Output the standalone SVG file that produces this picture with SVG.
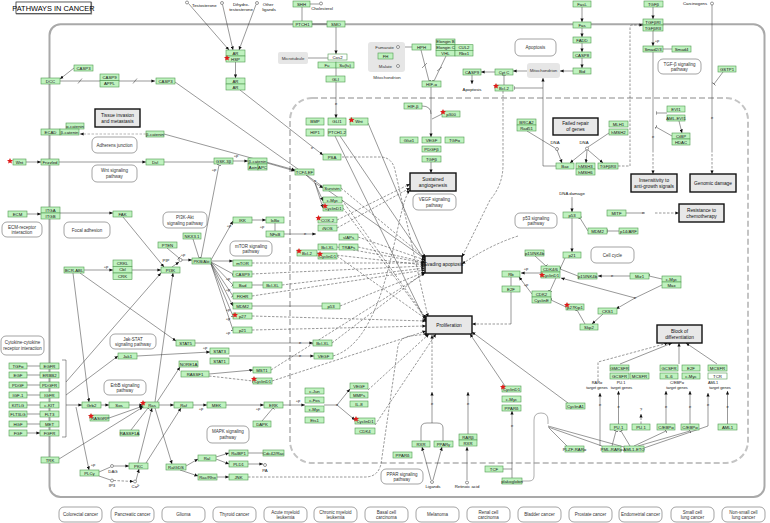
<svg xmlns="http://www.w3.org/2000/svg" width="770" height="523" viewBox="0 0 770 523">
<style>
text{font-family:"Liberation Sans",Arial,sans-serif}
.g rect{fill:#bff2bf;stroke:#4f9a4f;stroke-width:.6}
.g text,.t{font-size:4.3px;text-anchor:middle;fill:#111}
.w{fill:#fff!important}
.p rect{fill:#e8e8e8;stroke:#111;stroke-width:1.4}
.p text{font-size:4.8px;text-anchor:middle;fill:#111}
.m rect{fill:#fff;stroke:#666;stroke-width:.6}
.m text{font-size:4.5px;text-anchor:middle;fill:#333}
.c rect{fill:#e6e6e6}
.c text{font-size:4.4px;text-anchor:middle;fill:#333}
.l{fill:none;stroke:#333;stroke-width:.5}
.d{fill:none;stroke:#333;stroke-width:.5;stroke-dasharray:2.5 1.5}
.a{marker-end:url(#a)}
.i{marker-end:url(#t)}
.o{fill:#fff;stroke:#333;stroke-width:.5}
.s{font-size:4px;fill:#222;text-anchor:middle}
.tg{font-size:3.9px;text-anchor:middle;fill:#111}
</style>
<defs>
<marker id="a" viewBox="0 0 6 6" refX="6" refY="3" markerUnits="userSpaceOnUse" markerWidth="3.6" markerHeight="3.6" orient="auto"><path d="M0,0.3L6,3L0,5.7z" fill="#111"/></marker>
<marker id="t" viewBox="-1 -4 2 8" refX="0" refY="0" markerUnits="userSpaceOnUse" markerWidth="1" markerHeight="4.5" orient="auto"><path d="M0,-4V4" stroke="#111" stroke-width="1.2"/></marker>
<path id="st" d="M0,-3L0.9,-1L3,-0.9L1.4,0.5L1.9,2.6L0,1.5L-1.9,2.6L-1.4,0.5L-3,-0.9L-0.9,-1Z" fill="#e01b1b"/>
</defs>
<rect width="770" height="523" fill="#fff"/>
<g id="title"><rect x="16.5" y="2.5" width="75" height="11.5" fill="#fff" stroke="#999" stroke-width="1.2"/><rect x="16" y="2" width="75" height="11.5" fill="#fff" stroke="#222" stroke-width=".7"/><text x="53.5" y="10.6" font-size="7.4" text-anchor="middle">PATHWAYS IN CANCER</text></g>
<g id="membrane"><rect x="49.5" y="24.3" width="715" height="472.7" rx="11" fill="none" stroke="#a9a9a9" stroke-width="2"/></g>
<g id="nucleus"><rect x="290" y="98" width="458" height="365" rx="22" fill="none" stroke="#c4c4c4" stroke-width="2" stroke-dasharray="6 3"/></g>

<g id="edges">
<path class="l i" d="M302,7V21"/><path class="l i" d="M312,24H327"/><path class="l" d="M310,4H319.5"/>
<path class="l a" d="M336,27V54"/><path class="l i" d="M308,58H328"/><path class="l i" d="M336,68V76"/><path class="l a" d="M336,82V118"/>
<path class="l a" d="M188.5,3.5L229,50"/><path class="l a" d="M222.5,4.5L233,50"/><path class="l a" d="M256,4.5L239,50"/>
<path class="l a" d="M235.5,62V78"/><path class="l a" d="M240,90L323,155"/>
<path class="l a" d="M74,68L60,79"/>
<path d="M60,81H155" fill="none" stroke="#999" stroke-width="1.2" marker-end="url(#a)"/>
<path class="l" d="M78,83.5L82,78.5M133,83.5L137,78.5"/>
<path class="l a" d="M175,82L425,259"/>
<path d="M146,134H80" fill="none" stroke="#888" stroke-width=".6" stroke-dasharray="2.5 1.5" marker-end="url(#a)"/>
<path class="l a" d="M164,134L295,170"/>
<path class="l a" d="M26,162H41"/><path class="l a" d="M59,162H146"/><path class="l i" d="M164,162H214"/>
<path class="l a" d="M233,161H248"/><path class="l a" d="M267,163L295,171"/><path class="l i" d="M201,258L219,165"/>
<path class="l a" d="M27,214H41"/><path class="l a" d="M60,213H113"/><path class="l a" d="M123,217L164,267"/>
<path class="l a" d="M84,270H113"/><path class="l a" d="M132,270H161"/>
<path class="l a" d="M80,273L176,341"/><path class="l a" d="M73,273L89,402"/>
<path class="l i" d="M167,248L179,258"/><path class="l a" d="M172,267L179,262"/><path class="l a" d="M182,260H192"/><path class="l i" d="M193,239L199,258"/>
<path class="l a" d="M211,260L233,221"/><path class="l a" d="M211,261H233"/><path class="l i" d="M211,262L233,274"/><path class="l i" d="M211,262L233,285"/><path class="l i" d="M211,263L233,296"/><path class="l a" d="M211,263L233,306"/><path class="l i" d="M211,264L233,316"/><path class="l i" d="M211,264L233,330"/>
<path class="l a" d="M252,220H266"/><path class="l i" d="M275,223V231"/><path class="l a" d="M284,234H316"/>
<path class="l i" d="M252,285H263"/><path class="l i" d="M252,306H322"/>
<path class="l a" d="M306,175L315,183L323,188"/><path class="l a" d="M315,183L323,201"/><path class="l a" d="M315,183L323,208"/>
<path class="d a" d="M341,188L425,258"/><path class="d a" d="M337,220L410,184"/><path class="d a" d="M337,228L410,188"/>
<path class="d a" d="M358,237L425,260"/><path class="d a" d="M358,247L425,262"/><path class="d a" d="M337,247L425,263"/><path class="d a" d="M317,253L425,265"/>
<path class="d a" d="M337,256L426,319"/><path class="d a" d="M252,263H425"/><path class="d a" d="M252,274L425,266"/><path class="d a" d="M282,285L425,268"/>
<path class="d a" d="M252,296L425,270"/><path class="d a" d="M340,306L425,272"/><path class="d a" d="M252,316L426,321"/><path class="d a" d="M252,330L426,326"/>
<path class="d a" d="M342,200L426,318"/><path class="d a" d="M343,208L426,319"/><path class="d a" d="M332,343L425,272"/>
<path class="d a" d="M333,356C390,340 395,205 410,190"/><path class="d a" d="M271,370L425,273"/><path class="d a" d="M272,381L426,331"/>
<path class="d a" d="M368,390L429,334"/><path class="d a" d="M375,425L436,334"/><path class="d a" d="M342,157H380Q392,157 395,170L428,317"/>
<path class="l a" d="M335,136L426,322"/><path class="l a" d="M340,136L426,262"/><path class="l a" d="M368,123L425,258"/>
<path class="l i" d="M400,47H412"/><path class="l a" d="M398,49V64"/><path class="l i" d="M421,50L429,81"/><path class="l i" d="M446,56L434,81"/>
<path class="l" d="M422,68L427,63M437,71L442,67"/>
<path class="l a" d="M431,87V137"/><path class="l" d="M422,106Q431,106 431,114M442,114L432,119"/><path class="l a" d="M431,162V173"/>
<path class="l a" d="M582,7V22"/><path class="l a" d="M582,28V37"/><path class="l a" d="M582,43V52"/><path class="l a" d="M582,58V68"/>
<path class="l a" d="M573,71H560"/><path class="l a" d="M527,71H513"/><path class="l a" d="M495,72H481"/><path class="l a" d="M472,75V84"/><path class="l i" d="M504,85V75"/>
<path class="l a" d="M556,166H543V78"/><path class="l i" d="M543,88H514"/>
<path class="l" d="M527,131L555,148"/><path class="l" d="M609,133L588,147"/>
<path class="l a" d="M557,150L562,163"/><path class="l a" d="M586,150L570,163"/><path class="l a" d="M587,150L586,163"/><path class="l a" d="M588,150L603,163"/>
<path class="d a" d="M618,166H630V27Q630,25 632,25H643"/>
<path class="l a" d="M653,7V19"/><path class="l a" d="M653,31V46"/><path class="l" d="M662,49H672"/>
<path class="l" d="M653,52V150"/><path class="d a" d="M653,150V174"/><path class="l i" d="M667,113H656"/><path class="l i" d="M672,136L656,127"/><path class="l a" d="M679,121L682,133"/>
<path class="l" d="M712,5V150"/><path class="d a" d="M712,150V174"/><path class="l i" d="M723,72L714,84"/>
<path class="l" d="M626,213H645"/><path class="d a" d="M655,213H679"/>
<path class="l a" d="M572,197V212"/><path class="l a" d="M572,218V252"/><path class="l i" d="M588,231L580,218"/><path class="l i" d="M619,231H607"/>
<path class="l i" d="M565,258L550,291"/><path class="l i" d="M535,256L546,266"/><path class="l a" d="M541,273H521"/><path class="l a" d="M532,294L519,277"/><path class="l i" d="M511,277V286"/>
<path class="l" d="M511,292V324"/><path class="d a" d="M511,324H472"/>
<path class="l i" d="M578,276L560,269"/><path class="l a" d="M630,276H598"/><path class="l i" d="M662,279L649,276"/>
<path class="l a" d="M662,285L635,298L616,309"/><path class="l a" d="M635,298L561,278"/><path class="l a" d="M603,314L592,324"/><path class="l i" d="M585,324L577,310"/><path class="l i" d="M566,307L551,300"/>
<path class="d a" d="M518,236Q490,245 462,264"/><path class="d a" d="M503,91V165Q503,185 490,200L462,257"/>
<path class="l" d="M62,360H66V437H62"/>
<path class="l a" d="M66,382L161,273"/><path class="l a" d="M66,395L118,356"/><path class="l a" d="M66,405H82"/><path class="l a" d="M76,407L89,470"/>
<path class="l a" d="M27,366H40M27,375H40M27,385H40M27,395H40M27,405H40M27,414H40M27,424H40M27,433H40"/>
<path class="l a" d="M101,405H109"/><path class="l a" d="M129,405H143"/>
<path class="l a" d="M155,402L173,273"/><path class="l a" d="M159,405H174"/><path class="l a" d="M155,408L172,464"/><path class="l a" d="M157,402L180,367"/>
<path class="l a" d="M109,418L143,406"/><path class="l i" d="M131,430L148,408"/><path class="l a" d="M59,459L143,407"/>
<path class="l a" d="M146,463L181,408"/><path class="l a" d="M138,463L152,408"/>
<path class="l" d="M99,472L110.5,467M99,476L110.5,480"/><path class="l a" d="M113.5,466H129"/><path class="d a" d="M113.5,480.5L133.5,481.5"/><path class="l a" d="M136,480.5L139,469"/>
<path class="l a" d="M193,405H207"/><path class="l a" d="M226,405H264"/><path class="l a" d="M283,405H305"/><path class="l i" d="M262,421L273,408"/>
<path class="l" d="M324,405H337"/><path class="l a" d="M337,405L350,389"/><path class="l a" d="M337,405L355,420"/>
<path class="l a" d="M186,466L198,459"/><path class="l a" d="M180,470L198,476"/><path class="l a" d="M216,457L229,453"/><path class="l a" d="M216,459L229,464"/>
<path class="l i" d="M248,453H263"/><path class="l a" d="M248,464H263"/><path class="l a" d="M217,477H229"/>
<path class="d a" d="M248,477H365Q378,477 381,464L398,346Q400,338 410,336L428,334"/>
<path class="l a" d="M137,356L210,352"/><path class="l a" d="M229,356H314"/><path class="l a" d="M195,343H313"/>
<path class="l a" d="M209,374L253,370"/><path class="d i" d="M209,376L253,381"/>
<path class="l a" d="M431,480L422,447"/><path class="l a" d="M433,480L442,447"/><path class="l a" d="M467,480V447"/>
<path class="l" d="M421,441V428Q421,423 427,423H437Q443,423 443,428V441"/><path class="l a" d="M432,423V392"/><path class="d a" d="M432,388V335"/>
<path class="l a" d="M468,434V392"/><path class="l" d="M503,469H512"/><path class="l a" d="M512,478V411"/>
<path d="M522,481H529Q534,481 534,476V420Q534,413 541,413Q548,413 548,420V424" fill="none" stroke="#999" stroke-width=".8"/>
<path class="l" d="M548,426L624,447M548,427L602,446M549,428L567,446"/>
<path class="l a" d="M600,446V393"/><path class="l i" d="M612,446L616,431"/><path class="l i" d="M630,446L621,431"/><path class="l i" d="M634,446L666,431"/><path class="l i" d="M638,446L690,431"/>
<path class="l a" d="M644,448L708,426V393"/>
<path class="l a" d="M618.5,424V391"/><path class="d a" d="M641,424V414"/><path class="l a" d="M666,424V391"/><path class="l a" d="M690,424V391"/><path class="l a" d="M727.5,424V391"/>
<path class="d a" d="M598,381V362L668,343"/><path class="l a" d="M620,364L672,343"/><path class="l a" d="M679,364V343"/><path class="l a" d="M717,364L686,343"/>
<path class="l a" d="M505,386L470,334"/><path class="l a" d="M568,403L472,332"/>
</g>

<g id="labels-small">
<text class="s" x="312" y="149">e</text><text class="s" x="336" y="105">e</text><text class="s" x="236" y="157">+p</text><text class="s" x="214" y="171">+p</text>
<text class="s" x="106" y="268">+p</text><text class="s" x="229" y="227">+p</text><text class="s" x="228" y="280">+p</text><text class="s" x="228" y="291">+p</text><text class="s" x="228" y="311">+p</text><text class="s" x="228" y="320">+p</text><text class="s" x="228" y="334">+p</text>
<text class="s" x="262" y="228">+p</text><text class="s" x="305" y="235">e</text><text class="s" x="315" y="182">e</text>
<text class="s" x="657" y="42">+p</text><text class="s" x="653" y="138">e</text><text class="s" x="712" y="119">e</text><text class="s" x="643" y="214">e</text>
<text class="s" x="526" y="270">+p</text><text class="s" x="526" y="286">+p</text><text class="s" x="612" y="277">e</text><text class="s" x="635" y="299">e</text>
<text class="s" x="93" y="466">+p</text><text class="s" x="201" y="410">+p</text><text class="s" x="258" y="410">+p</text><text class="s" x="298" y="402">+p</text><text class="s" x="337" y="406">e</text>
<text class="s" x="205" y="349">+p</text><text class="s" x="300" y="357">e</text><text class="s" x="300" y="344">e</text><text class="s" x="183" y="256">+p</text>
<text class="s" x="432" y="405">e</text><text class="s" x="468" y="405">e</text><text class="s" x="512" y="427">e</text><text class="s" x="600" y="406">e</text><text class="s" x="618.5" y="408">e</text><text class="s" x="666" y="408">e</text><text class="s" x="690" y="408">e</text><text class="s" x="708" y="406">e</text><text class="s" x="727.5" y="408">e</text>
</g>

<g id="compounds">
<circle class="o" cx="187" cy="2.5" r="1.5"/><text class="t" x="192" y="7" style="text-anchor:start">Testosterone</text>
<circle class="o" cx="222" cy="3" r="1.5"/><text class="t" x="241" y="6">Dihydro-</text><text class="t" x="241" y="11">testosterone</text>
<circle class="o" cx="257" cy="3" r="1.5"/><text class="t" x="268" y="6">Other</text><text class="t" x="269" y="11">ligands</text>
<circle class="o" cx="321" cy="3.5" r="1.5"/><text class="t" x="322" y="10">Cholesterol</text>
<text class="t" x="472" y="91">Apoptosis</text>
<text class="t" x="555" y="144">DNA</text><circle class="o" cx="557" cy="149" r="1.5"/>
<text class="t" x="584" y="144">DNA</text><circle class="o" cx="587" cy="148.5" r="1.5"/>
<text class="t" x="572" y="195">DNA damage</text>
<text class="t" x="695" y="4.5">Carcinogens</text><circle class="o" cx="712" cy="3.5" r="1.5"/>
<text class="t" x="166" y="262">PIP</text><circle class="o" cx="180.5" cy="260" r="1.6"/>
<circle class="o" cx="112" cy="466" r="1.5"/><text class="t" x="113" y="472.5">DAG</text>
<circle class="o" cx="112" cy="480.5" r="1.5"/><text class="t" x="112" y="487">IP3</text>
<circle class="o" cx="135" cy="481.5" r="1.5"/><text class="t" x="135.5" y="488">Ca²⁺</text>
<circle class="o" cx="265" cy="465" r="1.5"/><text class="t" x="265" y="471.5">PA</text>
<circle class="o" cx="432" cy="482" r="1.5"/><text class="t" x="433" y="488">Ligands</text>
<circle class="o" cx="467" cy="482.5" r="1.5"/><text class="t" x="467" y="488">Retinoic acid</text>
<text class="t" x="641" y="411">?</text>
<text class="tg" x="597" y="384">RARα</text><text class="tg" x="597" y="389">target genes</text>
<text class="tg" x="621" y="384">PU.1</text><text class="tg" x="621.5" y="389">target genes</text>
<text class="tg" x="677" y="384">C/EBPα</text><text class="tg" x="677" y="389">target genes</text>
<text class="tg" x="713" y="384">AML1</text><text class="tg" x="720" y="389">target genes</text>
</g>

<g id="microtubule" class="c"><rect x="278" y="52" width="30" height="12" rx="2"/><text x="293" y="59.5">Microtubule</text></g>
<g id="mitochondrion" class="c"><rect x="527" y="63" width="33" height="15" rx="3"/><text x="543.5" y="72">Mitochondrion</text></g>
<g id="tca" class="c"><rect x="368" y="42" width="37" height="30" rx="3"/><text x="394" y="48.5" style="text-anchor:end">Fumarate</text><text x="392" y="68" style="text-anchor:end">Malate</text><circle class="o" cx="398" cy="47" r="1.5"/><circle class="o" cx="398" cy="66" r="1.5"/><text x="387" y="78.5">Mitochondrion</text></g>

<g id="h_tissue" class="p"><rect x="95" y="109" width="45" height="18"/><text x="117.5" y="116.5">Tissue invasion</text><text x="117.5" y="122.5">and metastasis</text></g>
<g id="h_angio" class="p"><rect x="410" y="173" width="46" height="18"/><text x="433" y="180.5">Sustained</text><text x="433" y="186.5">angiogenesis</text></g>
<g id="h_evading" class="p"><rect x="425" y="256" width="37" height="17"/><text x="443.5" y="266">Evading apoptosis</text></g>
<g id="h_prolif" class="p"><rect x="426" y="316" width="46" height="18"/><text x="449" y="326.5">Proliferation</text></g>
<g id="h_failed" class="p"><rect x="553" y="118" width="45" height="17"/><text x="575.5" y="125.3">Failed repair</text><text x="575.5" y="131">of genes</text></g>
<g id="h_insens" class="p"><rect x="631" y="174" width="46" height="18"/><text x="654" y="181.5">Insensitivity to</text><text x="654" y="187.5">anti-growth signals</text></g>
<g id="h_genomic" class="p"><rect x="690" y="174" width="46" height="18"/><text x="713" y="184.5">Genomic damage</text></g>
<g id="h_resist" class="p"><rect x="679" y="204" width="45" height="18"/><text x="701.5" y="211.5">Resistance to</text><text x="701.5" y="217.5">chemotherapy</text></g>
<g id="h_block" class="p"><rect x="657" y="325" width="45" height="18"/><text x="679.5" y="332.5">Block of</text><text x="679.5" y="338.5">differentiation</text></g>

<g id="m_adherens" class="m"><rect x="92" y="137" width="45" height="16" rx="5"/><text x="114.5" y="146.5">Adherens junction</text></g>
<g id="m_wnt" class="m"><rect x="92" y="165" width="45" height="17" rx="5"/><text x="114.5" y="172">Wnt signaling</text><text x="114.5" y="177.5">pathway</text></g>
<g id="m_ecm" class="m"><rect x="2" y="222" width="40" height="15" rx="5"/><text x="22" y="228.5">ECM-receptor</text><text x="22" y="234">interaction</text></g>
<g id="m_focal" class="m"><rect x="64" y="222" width="46" height="16" rx="5"/><text x="87" y="231.5">Focal adhesion</text></g>
<g id="m_pi3k" class="m"><rect x="163" y="212" width="44" height="16" rx="5"/><text x="185" y="219">PI3K-Akt</text><text x="185" y="224.5">signaling pathway</text></g>
<g id="m_mtor" class="m"><rect x="230" y="241" width="42" height="15" rx="5"/><text x="251" y="247.5">mTOR signaling</text><text x="251" y="253">pathway</text></g>
<g id="m_jak" class="m"><rect x="110" y="334" width="46" height="15" rx="5"/><text x="133" y="340.5">Jak-STAT</text><text x="133" y="346">signaling pathway</text></g>
<g id="m_cytokine" class="m"><rect x="1" y="336" width="43" height="19" rx="5"/><text x="22.5" y="344">Cytokine-cytokine</text><text x="22.5" y="350">receptor interaction</text></g>
<g id="m_erbb" class="m"><rect x="104" y="380" width="42" height="15" rx="5"/><text x="125" y="386.5">ErbB signaling</text><text x="125" y="392">pathway</text></g>
<g id="m_mapk" class="m"><rect x="207" y="426" width="42" height="17" rx="5"/><text x="228" y="433">MAPK signaling</text><text x="228" y="438.5">pathway</text></g>
<g id="m_vegf" class="m"><rect x="413" y="194" width="43" height="16" rx="5"/><text x="434.5" y="201">VEGF signaling</text><text x="434.5" y="206.5">pathway</text></g>
<g id="m_p53" class="m"><rect x="515" y="213" width="42" height="15" rx="5"/><text x="536" y="219.5">p53 signaling</text><text x="536" y="225">pathway</text></g>
<g id="m_apoptosis" class="m"><rect x="515" y="39" width="41" height="17" rx="5"/><text x="535.5" y="49">Apoptosis</text></g>
<g id="m_tgfb" class="m"><rect x="658" y="59" width="43" height="15" rx="5"/><text x="679.5" y="65.5">TGF-β signaling</text><text x="679.5" y="71">pathway</text></g>
<g id="m_cellcycle" class="m"><rect x="591" y="247" width="43" height="16" rx="5"/><text x="612.5" y="256.5">Cell cycle</text></g>
<g id="m_ppar" class="m"><rect x="381" y="469" width="42" height="15" rx="5"/><text x="402" y="475.5">PPAR signaling</text><text x="402" y="481">pathway</text></g>

<g id="cancers" class="m">
<rect x="59" y="507" width="43" height="15" rx="5"/><text x="80.5" y="516">Colorectal cancer</text>
<rect x="111" y="507" width="43" height="15" rx="5"/><text x="132.5" y="516">Pancreatic cancer</text>
<rect x="162" y="507" width="43" height="15" rx="5"/><text x="183.5" y="516">Glioma</text>
<rect x="213" y="507" width="43" height="15" rx="5"/><text x="234.5" y="516">Thyroid cancer</text>
<rect x="264" y="507" width="43" height="15" rx="5"/><text x="285.5" y="513.5">Acute myeloid</text><text x="285.5" y="519">leukemia</text>
<rect x="314" y="507" width="43" height="15" rx="5"/><text x="335.5" y="513.5">Chronic myeloid</text><text x="335.5" y="519">leukemia</text>
<rect x="365" y="507" width="43" height="15" rx="5"/><text x="386.5" y="513.5">Basal cell</text><text x="386.5" y="519">carcinoma</text>
<rect x="416" y="507" width="43" height="15" rx="5"/><text x="437.5" y="516">Melanoma</text>
<rect x="467" y="507" width="43" height="15" rx="5"/><text x="488.5" y="513.5">Renal cell</text><text x="488.5" y="519">carcinoma</text>
<rect x="518" y="507" width="43" height="15" rx="5"/><text x="539.5" y="516">Bladder cancer</text>
<rect x="569" y="507" width="43" height="15" rx="5"/><text x="590.5" y="516">Prostate cancer</text>
<rect x="619" y="507" width="43" height="15" rx="5"/><text x="640.5" y="516">Endometrial cancer</text>
<rect x="671" y="507" width="43" height="15" rx="5"/><text x="692.5" y="513.5">Small cell</text><text x="692.5" y="519">lung cancer</text>
<rect x="722" y="507" width="43" height="15" rx="5"/><text x="743.5" y="513.5">Non-small cell</text><text x="743.5" y="519">lung cancer</text>
</g>

<g id="n_ar_hsp" class="g"><rect x="226" y="50" width="19" height="6"/><rect x="226" y="56" width="19" height="6"/><text x="235.5" y="54.5">AR</text><text x="235.5" y="60.5">HSP</text><use href="#st" x="227" y="58"/></g>
<g id="n_ar_ar" class="g"><rect x="226" y="78" width="19" height="6"/><rect x="226" y="84" width="19" height="6"/><text x="235.5" y="82.5">AR</text><text x="235.5" y="88.5">AR</text></g>
<g id="n_shh" class="g"><rect x="293" y="1" width="17" height="6"/><text x="301.5" y="5.5">SHH</text></g>
<g id="n_ptch1" class="g"><rect x="293" y="21" width="19" height="6"/><text x="302.5" y="25.5">PTCH1</text></g>
<g id="n_smo" class="g"><rect x="327" y="21" width="18" height="6"/><text x="336" y="25.5">SMO</text></g>
<g id="n_cos2" class="g"><rect class="w" x="328" y="54" width="19" height="6"/><text x="337.5" y="58.5">Cos2</text></g>
<g id="n_fu" class="g"><rect x="318" y="62" width="18" height="6"/><rect x="336" y="62" width="18" height="6"/><text x="327" y="66.5">Fu</text><text x="345" y="66.5">Su(fu)</text></g>
<g id="n_gli" class="g"><rect x="326" y="76" width="19" height="6"/><text x="335.5" y="80.5">GLI</text></g>
<g id="n_bmp" class="g"><rect x="306" y="118" width="18" height="7"/><text x="315" y="123">BMP</text></g>
<g id="n_gli1" class="g"><rect x="328" y="118" width="18" height="7"/><text x="337" y="123">GLI1</text></g>
<g id="n_wnt2" class="g"><rect x="350" y="118" width="18" height="7"/><text x="359" y="123">Wnt</text><use href="#st" x="351.5" y="120"/></g>
<g id="n_hip1" class="g"><rect x="306" y="129" width="18" height="7"/><text x="315" y="134">HIP1</text></g>
<g id="n_ptch12" class="g"><rect x="328" y="129" width="18" height="7"/><text x="337" y="134">PTCH1,2</text></g>
<g id="n_psa" class="g"><rect x="323" y="154" width="18" height="6"/><text x="332" y="158.5">PSA</text></g>
<g id="n_gsk" class="g"><rect x="214" y="158" width="19" height="6"/><text x="223.5" y="162.5">GSK-3β</text></g>
<g id="n_bcat_axin" class="g"><rect x="248" y="158" width="19" height="6"/><rect x="248" y="164" width="10" height="6"/><rect x="258" y="164" width="9" height="6"/><text x="257.5" y="162.5">β-catenin</text><text x="253" y="168.5">Axin</text><text x="262.5" y="168.5">APC</text></g>
<g id="n_tcflef" class="g"><rect x="295" y="169" width="19" height="6"/><text x="304.5" y="173.5">TCF/LEF</text></g>
<g id="n_casp3a" class="g"><rect x="74" y="65" width="19" height="6"/><text x="83.5" y="69.5">CASP3</text></g>
<g id="n_dcc" class="g"><rect x="41" y="78" width="19" height="6"/><text x="50.5" y="82.5">DCC</text></g>
<g id="n_casp9appl" class="g"><rect x="100" y="74" width="19" height="6.5"/><rect x="100" y="80.5" width="19" height="6.5"/><text x="109.5" y="78.8">CASP9</text><text x="109.5" y="85.3">APPL</text></g>
<g id="n_casp3b" class="g"><rect x="156" y="78" width="19" height="6"/><text x="165.5" y="82.5">CASP3</text></g>
<g id="n_ecad" class="g"><rect x="66" y="123" width="18" height="6"/><rect x="41" y="129" width="19" height="6"/><rect x="60" y="129" width="19" height="6"/><text x="75" y="127.5">α-catenin</text><text x="50.5" y="133.5">ECAD</text><text x="69.5" y="133.5">β-catenin</text></g>
<g id="n_bcat2" class="g"><rect x="146" y="131" width="18" height="6"/><text x="155" y="135.5">β-catenin</text></g>
<g id="n_wnt1" class="g"><rect x="13" y="159" width="13" height="6"/><text x="19.5" y="163.5">Wnt</text><use href="#st" x="10" y="161"/></g>
<g id="n_frizzled" class="g"><rect x="41" y="159" width="18" height="6"/><text x="50" y="163.5">Frizzled</text></g>
<g id="n_dvl" class="g"><rect x="146" y="159" width="18" height="6"/><text x="155" y="163.5">Dvl</text></g>
<g id="n_ecm" class="g"><rect x="8" y="211" width="19" height="6"/><text x="17.5" y="215.5">ECM</text></g>
<g id="n_itg" class="g"><rect x="41" y="207" width="19" height="6"/><rect x="41" y="213" width="19" height="6"/><text x="50.5" y="211.5">ITGA</text><text x="50.5" y="217.5">ITGB</text></g>
<g id="n_fak" class="g"><rect x="113" y="211" width="19" height="6"/><text x="122.5" y="215.5">FAK</text></g>
<g id="n_pten" class="g"><rect x="158" y="242" width="19" height="6"/><text x="167.5" y="246.5">PTEN</text></g>
<g id="n_nkx" class="g"><rect x="183" y="233" width="18" height="6"/><text x="192" y="237.5">NKX3.1</text></g>
<g id="n_akt" class="g"><rect x="192" y="258" width="19" height="6"/><text x="201.5" y="262.5">PKB/Akt</text></g>
<g id="n_pi3k" class="g"><rect x="161" y="267" width="19" height="6"/><text x="170.5" y="271.5">PI3K</text></g>
<g id="n_bcrabl" class="g"><rect x="64" y="267" width="20" height="6"/><text x="74" y="271.5">BCR-ABL</text></g>
<g id="n_crkl" class="g"><rect x="113" y="260" width="19" height="6.5"/><rect x="113" y="266.5" width="19" height="6.5"/><rect x="113" y="273" width="19" height="6.5"/><text x="122.5" y="264.8">CRKL</text><text x="122.5" y="271.3">Cbl</text><text x="122.5" y="277.8">CRK</text></g>
<g id="n_ikk" class="g"><rect x="233" y="217" width="19" height="6"/><text x="242.5" y="221.5">IKK</text></g>
<g id="n_ikba" class="g"><rect x="266" y="217" width="18" height="6"/><text x="275" y="221.5">IκBα</text></g>
<g id="n_nfkb" class="g"><rect x="266" y="231" width="18" height="6"/><text x="275" y="235.5">NFκB</text></g>
<g id="n_mtor" class="g"><rect x="233" y="260" width="19" height="6"/><text x="242.5" y="264.5">mTOR</text></g>
<g id="n_casp9b" class="g"><rect x="233" y="271" width="19" height="6"/><text x="242.5" y="275.5">CASP9</text></g>
<g id="n_bad" class="g"><rect x="233" y="282" width="19" height="6"/><text x="242.5" y="286.5">Bad</text></g>
<g id="n_bclxl1" class="g"><rect x="263" y="282" width="19" height="6"/><text x="272.5" y="286.5">Bcl-XL</text></g>
<g id="n_fkhr" class="g"><rect x="233" y="293" width="19" height="6"/><text x="242.5" y="297.5">FKHR</text></g>
<g id="n_mdm2a" class="g"><rect x="233" y="303" width="19" height="6"/><text x="242.5" y="307.5">MDM2</text></g>
<g id="n_p53a" class="g"><rect x="322" y="303" width="18" height="6"/><text x="331" y="307.5">p53</text></g>
<g id="n_p27a" class="g"><rect x="233" y="313" width="19" height="6"/><text x="242.5" y="317.5">p27</text><use href="#st" x="235" y="315"/></g>
<g id="n_p21a" class="g"><rect x="233" y="327" width="19" height="6"/><text x="242.5" y="331.5">p21</text></g>
<g id="n_survivin" class="g"><rect x="323" y="185" width="18" height="6"/><text x="332" y="189.5">Survivin</text></g>
<g id="n_myc1" class="g"><rect x="323" y="197" width="19" height="6"/><rect x="323" y="205" width="20" height="6"/><text x="332.5" y="201.5">c-Myc</text><text x="333" y="209.5">CyclinD1</text><use href="#st" x="325" y="206"/></g>
<g id="n_cox2" class="g"><rect x="318" y="217" width="19" height="6"/><text x="327.5" y="221.5">COX-2</text><use href="#st" x="318.5" y="218"/></g>
<g id="n_inos" class="g"><rect x="318" y="225" width="19" height="6"/><text x="327.5" y="229.5">iNOS</text></g>
<g id="n_siaps" class="g"><rect x="339" y="234" width="19" height="6"/><text x="348.5" y="238.5">sIAPs</text></g>
<g id="n_trafs" class="g"><rect x="339" y="244" width="19" height="6"/><text x="348.5" y="248.5">TRAFs</text></g>
<g id="n_bclxl2" class="g"><rect x="318" y="244" width="19" height="6"/><text x="327.5" y="248.5">Bcl-XL</text></g>
<g id="n_bcl2a" class="g"><rect x="297" y="250" width="20" height="6"/><text x="307" y="254.5">Bcl-2</text><use href="#st" x="299" y="251"/></g>
<g id="n_ccnd1b" class="g"><rect x="318" y="253" width="19" height="6"/><text x="327.5" y="257.5">CyclinD1</text><use href="#st" x="320" y="254"/></g>
<g id="n_stat5" class="g"><rect x="176" y="340" width="19" height="6"/><text x="185.5" y="344.5">STAT5</text></g>
<g id="n_bclxl3" class="g"><rect x="313" y="340" width="19" height="6"/><text x="322.5" y="344.5">Bcl-XL</text></g>
<g id="n_jak1" class="g"><rect x="118" y="353" width="19" height="6"/><text x="127.5" y="357.5">Jak1</text></g>
<g id="n_stat3" class="g"><rect x="210" y="348" width="19" height="6"/><rect x="210" y="358" width="19" height="6"/><text x="219.5" y="352.5">STAT3</text><text x="219.5" y="362.5">STAT1</text></g>
<g id="n_vegf1" class="g"><rect x="314" y="353" width="19" height="6"/><text x="323.5" y="357.5">VEGF</text></g>
<g id="n_ligands" class="g">
<rect x="9" y="363" width="18" height="6"/><text x="18" y="367.5">TGFα</text>
<rect x="9" y="372" width="18" height="6"/><text x="18" y="376.5">EGF</text>
<rect x="9" y="382" width="18" height="6"/><text x="18" y="386.5">PDGF</text>
<rect x="9" y="392" width="18" height="6"/><text x="18" y="396.5">IGF-1</text>
<rect x="9" y="402" width="18" height="6"/><text x="18" y="406.5">KITLG</text>
<rect x="9" y="411" width="18" height="6"/><text x="18" y="415.5">FLT3LG</text>
<rect x="9" y="421" width="18" height="6"/><text x="18" y="425.5">HGF</text>
<rect x="9" y="430" width="18" height="6"/><text x="18" y="434.5">FGF</text></g>
<g id="n_receptors" class="g">
<rect x="40" y="363" width="19" height="6"/><text x="49.5" y="367.5">EGFR</text>
<rect x="40" y="372" width="19" height="6"/><text x="49.5" y="376.5">ERBB2</text>
<rect x="40" y="382" width="19" height="6"/><text x="49.5" y="386.5">PDGFR</text>
<rect x="40" y="392" width="19" height="6"/><text x="49.5" y="396.5">IGFR</text>
<rect x="40" y="402" width="19" height="6"/><text x="49.5" y="406.5">c-KIT</text>
<rect x="40" y="411" width="19" height="6"/><text x="49.5" y="415.5">FLT3</text>
<rect x="40" y="421" width="19" height="6"/><text x="49.5" y="425.5">MET</text>
<rect x="40" y="430" width="19" height="6"/><text x="49.5" y="434.5">FGFR</text></g>
<g id="n_grb2" class="g"><rect x="82" y="402" width="19" height="6"/><text x="91.5" y="406.5">Grb2</text></g>
<g id="n_sos" class="g"><rect x="109" y="402" width="20" height="6"/><text x="119" y="406.5">Sos</text></g>
<g id="n_ras" class="g"><rect x="143" y="402" width="16" height="6"/><text x="152" y="406.5">Ras</text><use href="#st" x="143" y="403"/></g>
<g id="n_red1" class="g"><rect x="90" y="415" width="19" height="6"/><text x="100" y="419.5">RASGRP</text><use href="#st" x="91" y="416"/></g>
<g id="n_rassf1a" class="g"><rect x="120" y="430" width="19" height="6"/><text x="129.5" y="434.5">RASSF1A</text></g>
<g id="n_trk" class="g"><rect x="41" y="457" width="18" height="6"/><text x="50" y="461.5">TRK</text></g>
<g id="n_plcg" class="g"><rect x="80" y="470" width="19" height="6"/><text x="89.5" y="474.5">PLCγ</text></g>
<g id="n_pkc" class="g"><rect x="129" y="463" width="19" height="6"/><text x="138.5" y="467.5">PKC</text></g>
<g id="n_ralgds" class="g"><rect x="166" y="464" width="20" height="6"/><text x="176" y="468.5">RalGDS</text></g>
<g id="n_raf" class="g"><rect x="174" y="402" width="19" height="6"/><text x="183.5" y="406.5">Raf</text></g>
<g id="n_nore1a" class="g"><rect x="179" y="361" width="19" height="6"/><text x="188.5" y="365.5">NORE1A</text></g>
<g id="n_rassf1" class="g"><rect x="181" y="371" width="28" height="6"/><text x="195" y="375.5">RASSF1</text></g>
<g id="n_mst1" class="g"><rect x="253" y="367" width="18" height="6"/><text x="262" y="371.5">MST1</text></g>
<g id="n_ccnd1c" class="g"><rect x="253" y="378" width="19" height="6"/><text x="262.5" y="382.5">CyclinD1</text><use href="#st" x="254" y="379"/></g>
<g id="n_mek" class="g"><rect x="207" y="402" width="19" height="6"/><text x="216.5" y="406.5">MEK</text></g>
<g id="n_erk" class="g"><rect x="264" y="402" width="19" height="6"/><text x="273.5" y="406.5">ERK</text></g>
<g id="n_dapk" class="g"><rect x="253" y="421" width="18" height="6"/><text x="262" y="425.5">DAPK</text></g>
<g id="n_jun" class="g"><rect x="305" y="388" width="19" height="6"/><rect x="305" y="397" width="19" height="6"/><rect x="305" y="406" width="19" height="6"/><rect x="305" y="417" width="19" height="6"/><text x="314.5" y="392.5">c-Jun</text><text x="314.5" y="401.5">c-Fos</text><text x="314.5" y="410.5">c-Myc</text><text x="314.5" y="421.5">Ets1</text></g>
<g id="n_vegf2" class="g"><rect x="350" y="383" width="18" height="6"/><rect x="350" y="392" width="18" height="6"/><rect x="350" y="401" width="18" height="6"/><text x="359" y="387.5">VEGF</text><text x="359" y="396.5">MMPs</text><text x="359" y="405.5">IL-8</text></g>
<g id="n_ccnd1d" class="g"><rect x="355" y="418" width="20" height="6"/><rect x="355" y="428" width="20" height="6"/><text x="365" y="422.5">CyclinD1</text><text x="365" y="432.5">CDK4</text><use href="#st" x="356" y="419"/></g>
<g id="n_ral" class="g"><rect x="198" y="455" width="18" height="6"/><text x="207" y="459.5">Ral</text></g>
<g id="n_ralbp1" class="g"><rect x="229" y="450" width="19" height="6"/><text x="238.5" y="454.5">RalBP1</text></g>
<g id="n_cdc42" class="g"><rect x="263" y="450" width="21" height="6"/><text x="273.5" y="454.5">Cdc42/Rac</text></g>
<g id="n_pld1" class="g"><rect x="229" y="461" width="19" height="6"/><text x="238.5" y="465.5">PLD1</text></g>
<g id="n_racrho" class="g"><rect x="198" y="474" width="19" height="6"/><text x="207.5" y="478.5">Rac/Rho</text></g>
<g id="n_jnk" class="g"><rect x="229" y="474" width="19" height="6"/><text x="238.5" y="478.5">JNK</text></g>
<g id="n_fh" class="g"><rect x="378" y="53" width="15" height="6"/><text x="385.5" y="57.5">FH</text></g>
<g id="n_hph" class="g"><rect x="412" y="44" width="19" height="6"/><text x="421.5" y="48.5">HPH</text></g>
<g id="n_vhl" class="g"><rect x="436" y="39" width="19" height="5.7"/><rect x="436" y="44.7" width="19" height="5.7"/><rect x="455" y="44.7" width="18" height="5.7"/><rect x="436" y="50.3" width="19" height="5.7"/><rect x="455" y="50.3" width="18" height="5.7"/><text x="445.5" y="43.2">Elongin B</text><text x="445.5" y="48.9">Elongin C</text><text x="464" y="48.9">CUL2</text><text x="445.5" y="54.5">VHL</text><text x="464" y="54.5">Rbx1</text></g>
<g id="n_hifa" class="g"><rect x="422" y="81" width="19" height="6"/><text x="431.5" y="85.5">HIF-α</text></g>
<g id="n_hifb" class="g"><rect x="404" y="103" width="18" height="6"/><text x="413" y="107.5">HIF-β</text></g>
<g id="n_p300" class="g"><rect x="442" y="111" width="18" height="6"/><text x="451" y="115.5">p300</text><use href="#st" x="443" y="112"/></g>
<g id="n_hiftargets" class="g"><rect x="400" y="137" width="18" height="6"/><rect x="422" y="137" width="19" height="6"/><rect x="445" y="137" width="19" height="6"/><rect x="422" y="146" width="19" height="6"/><rect x="422" y="156" width="19" height="6"/><text x="409" y="141.5">Glut1</text><text x="431.5" y="141.5">VEGF</text><text x="454.5" y="141.5">TGFα</text><text x="431.5" y="150.5">PDGFβ</text><text x="431.5" y="160.5">TGFβ</text></g>
<g id="n_casp9c" class="g"><rect x="463" y="69" width="18" height="6"/><text x="472" y="73.5">CASP9</text></g>
<g id="n_cytc" class="g"><rect x="495" y="69" width="18" height="6"/><text x="504" y="73.5">Cyt C</text></g>
<g id="n_bcl2b" class="g"><rect x="495" y="85" width="18" height="6"/><text x="504" y="89.5">Bcl-2</text><use href="#st" x="496" y="86"/></g>
<g id="n_brca2" class="g"><rect x="517" y="119" width="19" height="6"/><rect x="517" y="125" width="19" height="6"/><text x="526.5" y="123.5">BRCA2</text><text x="526.5" y="129.5">Rad51</text></g>
<g id="n_mlh1" class="g"><rect x="609" y="121" width="19" height="6"/><rect x="609" y="129" width="19" height="6"/><text x="618.5" y="125.5">MLH1</text><text x="618.5" y="133.5">hMSH2</text></g>
<g id="n_hmsh" class="g"><rect x="576" y="163" width="19" height="6"/><rect x="576" y="169" width="19" height="6"/><text x="585.5" y="167.5">hMSH3</text><text x="585.5" y="173.5">hMSH6</text></g>
<g id="n_tgfbr2b" class="g"><rect x="598" y="163" width="20" height="6"/><text x="608" y="167.5">TGFβRII</text></g>
<g id="n_bax" class="g"><rect x="556" y="163" width="18" height="6"/><text x="565" y="167.5">Bax</text></g>
<g id="n_fasl" class="g"><rect x="573" y="1" width="18" height="6"/><text x="582" y="5.5">FasL</text></g>
<g id="n_fas" class="g"><rect x="573" y="22" width="18" height="6"/><text x="582" y="26.5">Fas</text></g>
<g id="n_fadd" class="g"><rect x="573" y="37" width="18" height="6"/><text x="582" y="41.5">FADD</text></g>
<g id="n_casp8" class="g"><rect x="573" y="52" width="18" height="6"/><text x="582" y="56.5">CASP8</text></g>
<g id="n_bid" class="g"><rect x="573" y="68" width="18" height="6"/><text x="582" y="72.5">Bid</text></g>
<g id="n_tgfb" class="g"><rect x="644" y="1" width="19" height="6"/><text x="653.5" y="5.5">TGFβ</text></g>
<g id="n_tgfbr" class="g"><rect x="643" y="19" width="20" height="6"/><rect x="643" y="25" width="20" height="6"/><text x="653" y="23.5">TGFβRI</text><text x="653" y="29.5">TGFβRII</text></g>
<g id="n_smad23" class="g"><rect x="643" y="46" width="20" height="6"/><text x="653" y="50.5">Smad2/3</text></g>
<g id="n_smad4" class="g"><rect x="672" y="46" width="19" height="6"/><text x="681.5" y="50.5">Smad4</text></g>
<g id="n_gstp1" class="g"><rect x="718" y="66" width="18" height="6"/><text x="727" y="70.5">GSTP1</text></g>
<g id="n_evi1" class="g"><rect x="667" y="106" width="18" height="6"/><text x="676" y="110.5">EVI1</text></g>
<g id="n_amlevi1" class="g"><rect x="667" y="115" width="18" height="6"/><text x="676" y="119.5">AML-EVI1</text></g>
<g id="n_ctbp" class="g"><rect x="672" y="133" width="18" height="6"/><rect x="672" y="139" width="18" height="6"/><text x="681" y="137.5">CtBP</text><text x="681" y="143.5">HDAC</text></g>
<g id="n_p53b" class="g"><rect x="563" y="212" width="18" height="6"/><text x="572" y="216.5">p53</text></g>
<g id="n_p21b" class="g"><rect x="563" y="252" width="18" height="6"/><text x="572" y="256.5">p21</text></g>
<g id="n_p15a" class="g"><rect x="525" y="250" width="19" height="6"/><text x="534.5" y="254.5">p15INK4b</text></g>
<g id="n_rb" class="g"><rect x="502" y="271" width="18" height="6"/><text x="511" y="275.5">Rb</text></g>
<g id="n_e2f" class="g"><rect x="502" y="286" width="18" height="6"/><text x="511" y="290.5">E2F</text></g>
<g id="n_cdk46" class="g"><rect x="541" y="266" width="19" height="6"/><rect x="541" y="272" width="19" height="6"/><text x="550.5" y="270.5">CDK4/6</text><text x="550.5" y="276.5">CyclinD1</text><use href="#st" x="542" y="275"/></g>
<g id="n_cdk2" class="g"><rect x="532" y="291" width="19" height="6"/><rect x="532" y="297" width="19" height="6"/><text x="541.5" y="295.5">CDK2</text><text x="541.5" y="301.5">CyclinE</text></g>
<g id="n_mitf" class="g"><rect x="607" y="210" width="19" height="6"/><text x="616.5" y="214.5">MITF</text></g>
<g id="n_mdm2b" class="g"><rect x="588" y="228" width="19" height="6"/><text x="597.5" y="232.5">MDM2</text></g>
<g id="n_p14" class="g"><rect x="619" y="228" width="19" height="6"/><text x="628.5" y="232.5">p14/ARF</text></g>
<g id="n_p15b" class="g"><rect x="578" y="273" width="19" height="6"/><text x="587.5" y="277.5">p15INK4b</text></g>
<g id="n_miz1" class="g"><rect x="630" y="273" width="19" height="6"/><text x="639.5" y="277.5">Miz1</text></g>
<g id="n_mycmax" class="g"><rect x="662" y="276" width="19" height="6"/><rect x="662" y="282" width="19" height="6"/><text x="671.5" y="280.5">c-Myc</text><text x="671.5" y="286.5">Max</text></g>
<g id="n_cks1" class="g"><rect x="598" y="308" width="19" height="6"/><text x="607.5" y="312.5">CKS1</text></g>
<g id="n_skp2" class="g"><rect x="580" y="324" width="18" height="6"/><text x="589" y="328.5">Skp2</text></g>
<g id="n_p27b" class="g"><rect x="566" y="304" width="18" height="6"/><text x="575" y="308.5">p27Kip1</text><use href="#st" x="567" y="305"/></g>
<g id="n_pu1genes" class="g"><rect x="610" y="365" width="19" height="6"/><rect x="610" y="373" width="19" height="6"/><rect x="630" y="373" width="19" height="6"/><text x="619.5" y="369.5">GMCSFR</text><text x="619.5" y="377.5">GCSFR</text><text x="639.5" y="377.5">MCSFR</text></g>
<g id="n_cebpgenes" class="g"><rect x="660" y="365" width="18" height="6"/><rect x="682" y="365" width="18" height="6"/><rect x="660" y="373" width="18" height="6"/><rect x="682" y="373" width="18" height="6"/><text x="669" y="369.5">GCSFR</text><text x="691" y="369.5">E2F</text><text x="669" y="377.5">IL-6</text><text x="691" y="377.5">c-Myc</text></g>
<g id="n_aml1genes" class="g"><rect x="708" y="365" width="19" height="6"/><rect class="w" x="708" y="373" width="19" height="6"/><text x="717.5" y="369.5">MCSFR</text><text x="717.5" y="377.5">TCR</text></g>
<g id="n_pu1a" class="g"><rect x="610" y="424" width="17" height="6"/><text x="618.5" y="428.5">PU.1</text></g>
<g id="n_pu1b" class="g"><rect x="632" y="424" width="18" height="6"/><text x="641" y="428.5">PU.1</text></g>
<g id="n_cebpa1" class="g"><rect x="657" y="424" width="18" height="6"/><text x="666" y="428.5">C/EBPα</text></g>
<g id="n_cebpa2" class="g"><rect x="681" y="424" width="18" height="6"/><text x="690" y="428.5">C/EBPα</text></g>
<g id="n_aml1" class="g"><rect x="718" y="424" width="19" height="6"/><text x="727.5" y="428.5">AML1</text></g>
<g id="n_ccna1" class="g"><rect x="566" y="403" width="19" height="6"/><text x="575.5" y="407.5">CyclinA1</text></g>
<g id="n_plzf" class="g"><rect x="565" y="446" width="19" height="6"/><text x="574.5" y="450.5">PLZF-RARα</text></g>
<g id="n_pml" class="g"><rect x="602" y="446" width="19" height="6"/><text x="611.5" y="450.5">PML-RARα</text></g>
<g id="n_aml1eto" class="g"><rect x="624" y="446" width="20" height="6"/><text x="634" y="450.5">AML1-ETO</text></g>
<g id="n_rxr_ppar" class="g"><rect x="412" y="441" width="18" height="6"/><rect x="434" y="441" width="19" height="6"/><text x="421" y="445.5">RXR</text><text x="443.5" y="445.5">PPARγ</text></g>
<g id="n_rxrp" class="g"><rect x="393" y="452" width="19" height="6"/><text x="402.5" y="456.5">PPARδ</text></g>
<g id="n_rarb" class="g"><rect x="459" y="434" width="18" height="6"/><rect x="459" y="440" width="18" height="6"/><text x="468" y="438.5">RARβ</text><text x="468" y="444.5">RXR</text></g>
<g id="n_tcf" class="g"><rect x="485" y="466" width="18" height="6"/><text x="494" y="470.5">TCF</text></g>
<g id="n_plakoglobin" class="g"><rect x="502" y="478" width="20" height="6"/><text x="512" y="482.5">plakoglobin</text></g>
<g id="n_ccnd1e" class="g"><rect x="502" y="386" width="19" height="6"/><rect x="502" y="396" width="19" height="6"/><rect x="502" y="405" width="19" height="6"/><text x="511.5" y="390.5">CyclinD1</text><text x="511.5" y="400.5">c-Myc</text><text x="511.5" y="409.5">PPARδ</text><use href="#st" x="503" y="387"/></g>
</svg>
